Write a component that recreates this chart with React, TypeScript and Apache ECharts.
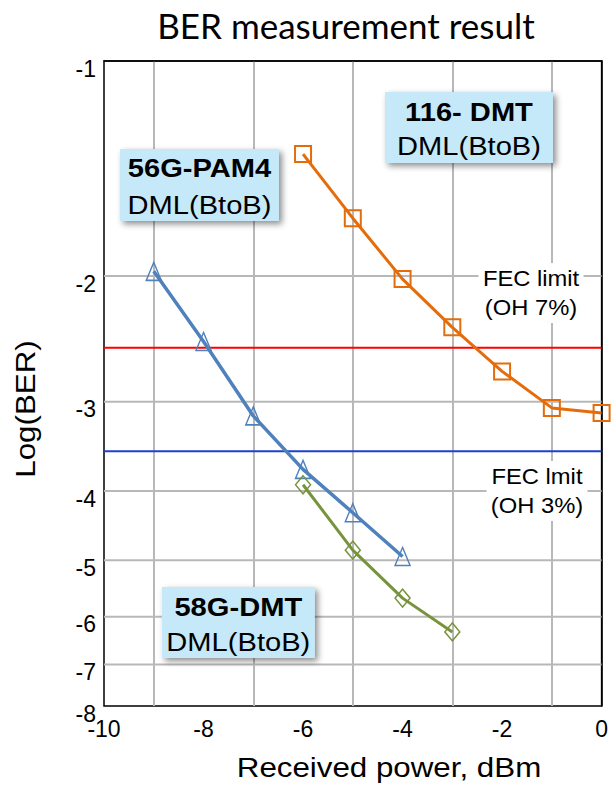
import React, { useEffect, useRef } from "react";
import * as echarts from "echarts";

// ---- data ----
const xTicks = [-10, -8, -6, -4, -2, 0];
const yTicks = [-1, -2, -3, -4, -5, -6, -7, -8];

const powerPAM4 = [-9, -8, -7, -6, -5, -4];
const berPAM4 = [-1.97, -2.47, -3.14, -3.73, -4.29, -4.94];

const powerDMT116 = [-6, -5, -4, -3, -2, -1, 0];
const berDMT116 = [-1.35, -1.66, -2.02, -2.36, -2.72, -3.06, -3.11];

const powerDMT58 = [-6, -5, -4, -3];
const berDMT58 = [-3.92, -4.84, -5.65, -6.3];

const fecOH7 = -2.52;
const fecOH3 = -3.52;

// the y axis is drawn as log10(-log(BER))
const tf = (v: number) => Math.log10(-v);

const ARIAL = '"Liberation Sans", Arial, sans-serif';
const GRID_COLOR = "#b8b8b8";

function box(cx: number, top: number, w: number, h: number, l1: string, l2: string, y1: number, y2: number) {
  return {
    type: "group",
    z: 100,
    children: [
      {
        type: "rect",
        z: 100,
        shape: { x: cx - w / 2, y: top, width: w, height: h },
        style: {
          fill: "#c6e9fa",
          shadowBlur: 6,
          shadowOffsetX: 3,
          shadowOffsetY: 3,
          shadowColor: "rgba(0,0,0,0.45)",
        },
      },
      {
        type: "text",
        z: 101,
        x: cx,
        y: y1,
        scaleX: 1.12,
        style: { text: l1, font: `bold 26px ${ARIAL}`, fill: "#000", align: "center", verticalAlign: "middle" },
      },
      {
        type: "text",
        z: 101,
        x: cx,
        y: y2,
        scaleX: 1.12,
        style: { text: l2, font: `26px ${ARIAL}`, fill: "#000", align: "center", verticalAlign: "middle" },
      },
    ],
  };
}

function fecText(cx: number, cy: number, txt: string) {
  return {
    type: "text",
    x: cx,
    y: cy,
    scaleX: 1.08,
    z: 50,
    style: {
      text: txt,
      font: `22px ${ARIAL}`,
      fill: "#000",
      align: "center",
      verticalAlign: "middle",
      lineHeight: 29,
      backgroundColor: "#fff",
      padding: [1, 4],
    },
  };
}

function hLine(v: number, color: string, z: number, width: number) {
  return {
    type: "line",
    silent: true,
    z,
    symbol: "none",
    clip: false,
    data: [
      [xTicks[0], tf(v)],
      [xTicks[xTicks.length - 1], tf(v)],
    ],
    lineStyle: { color, width, opacity: 1 },
    itemStyle: { color },
  };
}

export default function App() {
  const ref = useRef<HTMLDivElement>(null);
  useEffect(() => {
    const chart = echarts.init(ref.current!, null, { renderer: "svg" });
    const xMin = xTicks[0];
    const xMax = xTicks[xTicks.length - 1];
    chart.setOption({
      animation: false,
      backgroundColor: "#fff",
      grid: {
        left: 104,
        right: 8,
        top: 61,
        bottom: 80,
        show: true,
        borderColor: "#000",
        borderWidth: 1.5,
      },
      xAxis: {
        type: "value",
        min: xMin,
        max: xMax,
        interval: 2,
        axisLine: { show: true, lineStyle: { color: "#000", width: 1.5 } },
        axisTick: { show: false },
        axisLabel: { color: "#000", fontFamily: ARIAL, fontSize: 23, margin: 11 },
        splitLine: { show: false },
        minorTick: { show: false, splitNumber: 2 },
        minorSplitLine: { show: true, lineStyle: { color: GRID_COLOR, width: 2 } },
      },
      yAxis: {
        type: "value",
        inverse: true,
        min: 0,
        max: tf(yTicks[yTicks.length - 1]),
        axisLine: { show: true, lineStyle: { color: "#000", width: 1.5 } },
        axisTick: { show: false },
        axisLabel: {
          color: "#000",
          fontFamily: ARIAL,
          fontSize: 23,
          margin: 8,
          verticalAlign: "top",
          lineHeight: 15,
          customValues: yTicks.map(tf),
          formatter: (val: number) => String(-Math.round(Math.pow(10, val))),
        },
        splitLine: { show: false },
      },
      series: [
        ...yTicks.slice(1, -1).map((v) => hLine(v, GRID_COLOR, 2, 2)),
        hLine(fecOH7, "#ff0000", 3, 2),
        hLine(fecOH3, "#1f3fcc", 3, 2),
        {
          name: "56G-PAM4",
          type: "line",
          z: 12,
          clip: false,
          data: powerPAM4.map((p, i) => [p, tf(berPAM4[i])]),
          symbol: "triangle",
          symbolSize: [15, 18],
          lineStyle: { color: "#4f81bd", width: 3.5 },
          itemStyle: { color: "rgba(0,0,0,0)", borderColor: "#4f81bd", borderWidth: 1.5 },
        },
        {
          name: "116-DMT",
          type: "line",
          z: 12,
          clip: false,
          data: powerDMT116.map((p, i) => [p, tf(berDMT116[i])]),
          symbol: "rect",
          symbolSize: 16,
          lineStyle: { color: "#e46c0a", width: 3 },
          itemStyle: { color: "rgba(0,0,0,0)", borderColor: "#e46c0a", borderWidth: 2 },
        },
        {
          name: "58G-DMT",
          type: "line",
          z: 12,
          clip: false,
          data: powerDMT58.map((p, i) => [p, tf(berDMT58[i])]),
          symbol: "diamond",
          symbolSize: [15, 18],
          lineStyle: { color: "#77933c", width: 3 },
          itemStyle: { color: "rgba(0,0,0,0)", borderColor: "#77933c", borderWidth: 1.5 },
        },
      ],
      graphic: [
        {
          type: "text",
          x: 346,
          y: 25,
          style: { text: "BER measurement result", font: '35px Lato, "Open Sans", sans-serif', fill: "#000", align: "center", verticalAlign: "middle" },
        },
        {
          type: "text",
          x: 389,
          y: 768,
          scaleX: 1.16,
          style: { text: "Received power, dBm", font: `27px ${ARIAL}`, fill: "#000", align: "center", verticalAlign: "middle" },
        },
        {
          type: "text",
          x: 26,
          y: 409,
          rotation: Math.PI / 2,
          scaleX: 1.16,
          style: { text: "Log(BER)", font: `27px ${ARIAL}`, fill: "#000", align: "center", verticalAlign: "middle" },
        },
        box(199.5, 149, 159, 72, "56G-PAM4", "DML(BtoB)", 168, 205),
        box(469, 92, 168, 71, "116- DMT", "DML(BtoB)", 112, 146),
        box(238.3, 587, 153, 71, "58G-DMT", "DML(BtoB)", 607, 642),
        fecText(531, 293, "FEC limit\n(OH 7%)"),
        fecText(537, 491, "FEC lmit\n(OH 3%)"),
      ],
    });
    return () => chart.dispose();
  }, []);
  return <div ref={ref} style={{ position: "fixed", left: 0, top: 0, width: 611, height: 786 }} />;
}
